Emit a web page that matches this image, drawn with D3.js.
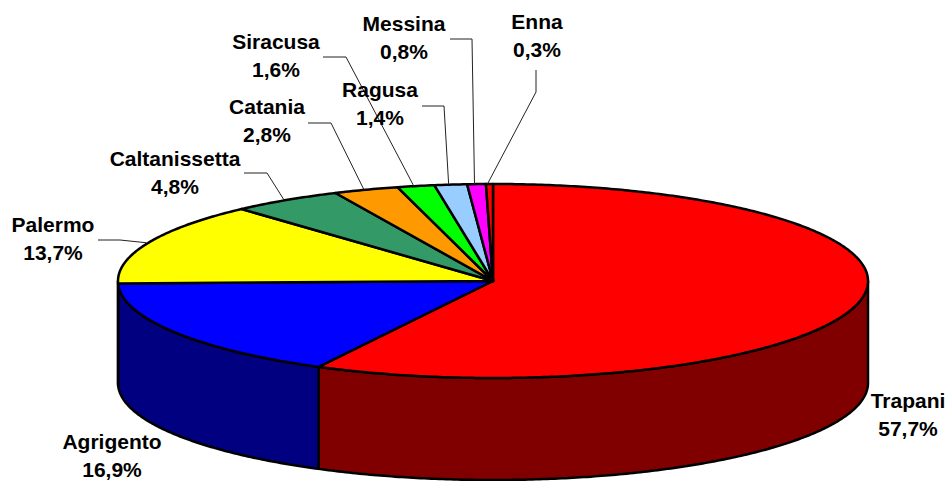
<!DOCTYPE html>
<html>
<head>
<meta charset="utf-8">
<script src="https://cdn.jsdelivr.net/npm/d3@7"></script>
<style>
html,body{margin:0;padding:0;background:#fff;overflow:hidden}
text{font-family:"Liberation Sans",Arial,sans-serif;font-weight:bold;font-size:21px;fill:#000}
</style>
</head>
<body>
<script>
const provinces = ["Trapani","Agrigento","Palermo","Caltanissetta","Catania","Siracusa","Ragusa","Messina","Enna"];
const shares = [57.7,16.9,13.7,4.8,2.8,1.6,1.4,0.8,0.3];
const topColors = ["#ff0000","#0000ff","#ffff00","#339966","#ff9900","#00ff00","#99ccff","#ff00ff","#ff0000"];
const sideColors = ["#800000","#000080","#808000","#1a4d33","#804d00","#008000","#4d6680","#800080","#800000"];

// layout
const W = 951, H = 481, CX = 493, CY = 281, RX = 375, RY = 97, DEPTH = 102;
const labelPos = {
  Trapani:[908,402], Agrigento:[112,443], Palermo:[53,226], Caltanissetta:[175,160],
  Catania:[267,108], Siracusa:[276,43], Ragusa:[380,91], Messina:[404,25], Enna:[537,23]
};
const leaders = {
  Palermo:[[98,240],[120,240]], Caltanissetta:[[244,173],[267,173]], Catania:[[308,123],[331,123]],
  Siracusa:[[323,57],[346,57]], Ragusa:[[422,106],[444,106]], Messina:[[450,39],[472,39]], Enna:[[536,70],[536,92]]
};

const svg = d3.select("body").append("svg").attr("width",W).attr("height",H).style("display","block");
const x = d3.scaleLinear().domain([-1,1]).range([CX-RX,CX+RX]);
const y = d3.scaleLinear().domain([-1,1]).range([CY-RY,CY+RY]);
const px = a => x(Math.sin(a));
const py = a => y(-Math.cos(a));
const line = d3.line();
const arcPts = (a0,a1,dy=0) => {
  const n = Math.max(2,Math.ceil(Math.abs(a1-a0)/0.01));
  return d3.range(n+1).map(i => { const a=a0+(a1-a0)*i/n; return [px(a),py(a)+dy]; });
};
const pie = d3.pie().sort(null).value(d=>d.v)(provinces.map((n,i)=>({n,v:shares[i],i})));
const OUT = 2.5;

// side walls (only the front half of the rim is visible)
const lo = Math.PI/2, hi = 3*Math.PI/2;
svg.append("g").selectAll("path")
  .data(pie.filter(d=>d.endAngle>lo && d.startAngle<hi))
  .join("path")
  .attr("d",d=>{
    const a0=Math.max(d.startAngle,lo), a1=Math.min(d.endAngle,hi);
    return line([...arcPts(a0,a1),...arcPts(a1,a0,DEPTH)])+"Z";
  })
  .attr("fill",d=>sideColors[d.data.i])
  .attr("stroke","#000").attr("stroke-width",OUT).attr("stroke-linejoin","round");

// top face
svg.append("g").selectAll("path")
  .data(pie)
  .join("path")
  .attr("d",d=>line([[x(0),y(0)],...arcPts(d.startAngle,d.endAngle)])+"Z")
  .attr("fill",d=>topColors[d.data.i])
  .attr("stroke","#000").attr("stroke-width",OUT).attr("stroke-linejoin","round");

// leader lines
svg.append("g").selectAll("path")
  .data(pie.filter(d=>leaders[d.data.n]))
  .join("path")
  .attr("d",d=>{
    const m=(d.startAngle+d.endAngle)/2;
    return line([...leaders[d.data.n],[px(m)-2,py(m)]]);
  })
  .attr("fill","none").attr("stroke","#222").attr("stroke-width",1);

// labels
const lab = svg.append("g").selectAll("g").data(pie).join("g")
  .attr("transform",d=>`translate(${labelPos[d.data.n][0]},${labelPos[d.data.n][1]})`);
lab.append("text").attr("text-anchor","middle").attr("dy","0.3em").text(d=>d.data.n);
lab.append("text").attr("text-anchor","middle").attr("dy","0.3em").attr("y",28)
  .text(d=>d.data.v.toFixed(1).replace(".",",")+"%");
</script>
</body>
</html>
